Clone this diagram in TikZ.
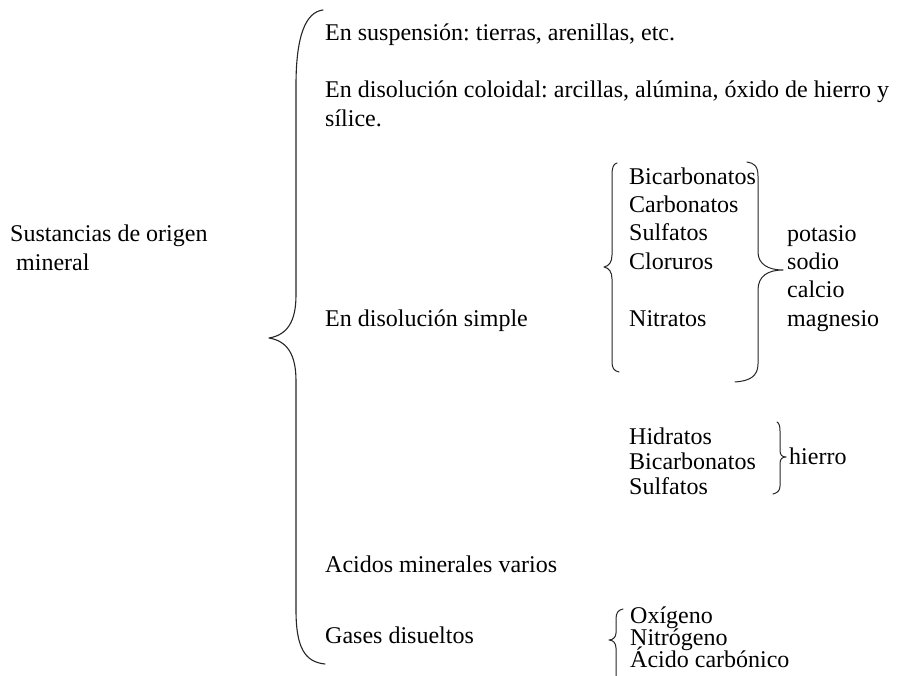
\documentclass[tikz,border=0pt]{standalone}
\usepackage{fontspec}
\setmainfont{Liberation Serif}
\frenchspacing
\begin{document}
\begin{tikzpicture}[x=1pt,y=-1pt,
  txt/.style={anchor=base west,inner sep=0pt,text=black,font=\fontsize{24}{28}\selectfont},
  brace/.style={draw=black!85,line width=1.1pt,line cap=round,line join=round}]
\useasboundingbox[fill=white] (0,0) rectangle (916,676);

% root label
\node[txt,align=left] (root) at (10,271) {Sustancias de origen\\[1pt] \ mineral};

% main branches
\node[txt] (susp) at (325,41) {En suspensión: tierras, arenillas, etc.};
\node[txt] (col1) at (325,98) {En disolución coloidal: arcillas, alúmina, óxido de hierro y};
\node[txt] (col2) at (325,127) {sílice.};
\node[txt] (simple) at (325,327) {En disolución simple};
\node[txt] (acidos) at (325,572) {Acidos minerales varios};
\node[txt] (gases) at (325,643) {Gases disueltos};

% salts in simple solution
\node[txt] (bic) at (629,185) {Bicarbonatos};
\node[txt] (carb) at (629,213) {Carbonatos};
\node[txt] (sulf) at (629,241) {Sulfatos};
\node[txt] (clor) at (629,270) {Cloruros};
\node[txt] (nitr) at (629,327) {Nitratos};

% cations
\node[txt] (pot) at (787,242) {potasio};
\node[txt] (sod) at (787,270) {sodio};
\node[txt] (cal) at (787,298) {calcio};
\node[txt] (mag) at (787,327) {magnesio};

% iron compounds
\node[txt] (hid) at (629,444) {Hidratos};
\node[txt] (bic2) at (629,469) {Bicarbonatos};
\node[txt] (sulf2) at (629,494) {Sulfatos};
\node[txt] (hierro) at (789,464) {hierro};

% dissolved gases
\node[txt] (oxi) at (630,623) {Oxígeno};
\node[txt] (nit) at (630,645) {Nitrógeno};
\node[txt] (acc) at (630,667) {Ácido carbónico};

% main brace
\draw[brace] (323,10) .. controls (306,12) and (296,35) .. (296,85)
  -- (296,295) .. controls (296,322) and (287,335) .. (269,338)
  .. controls (287,341) and (296,354) .. (296,381)
  -- (296,610) .. controls (296,648) and (305,662) .. (325,664);

% left brace of the salts
\draw[brace,line width=1pt] (617,163) .. controls (613,164) and (612,168) .. (612,176)
  -- (612,255) .. controls (612,262) and (609,266) .. (604,267)
  .. controls (609,268) and (612,272) .. (612,279)
  -- (612,362) .. controls (612,368) and (614,371) .. (619,372);

% right brace of the salts
\draw[brace,line width=1pt] (747,162) .. controls (754,163) and (758,166) .. (758,176)
  -- (758,252) .. controls (758,264) and (768,270) .. (783,270)
  .. controls (768,270) and (758,276) .. (758,290)
  -- (758,364) .. controls (758,376) and (750,381) .. (735,382);

% brace of the iron compounds
\draw[brace,line width=1pt] (777,422) .. controls (779,423) and (780,426) .. (780,431)
  -- (780,450) .. controls (780,455) and (782,457) .. (786,457)
  .. controls (782,457) and (780,459) .. (780,464)
  -- (780,486) .. controls (780,491) and (777,493) .. (773,494);

% brace of the gases
\draw[brace,line width=1pt] (623,609) .. controls (618,610) and (616,613) .. (616,619)
  -- (616,633) .. controls (616,637) and (613,640) .. (609,640)
  .. controls (613,640) and (616,643) .. (616,648)
  -- (616,676);
\end{tikzpicture}
\end{document}
